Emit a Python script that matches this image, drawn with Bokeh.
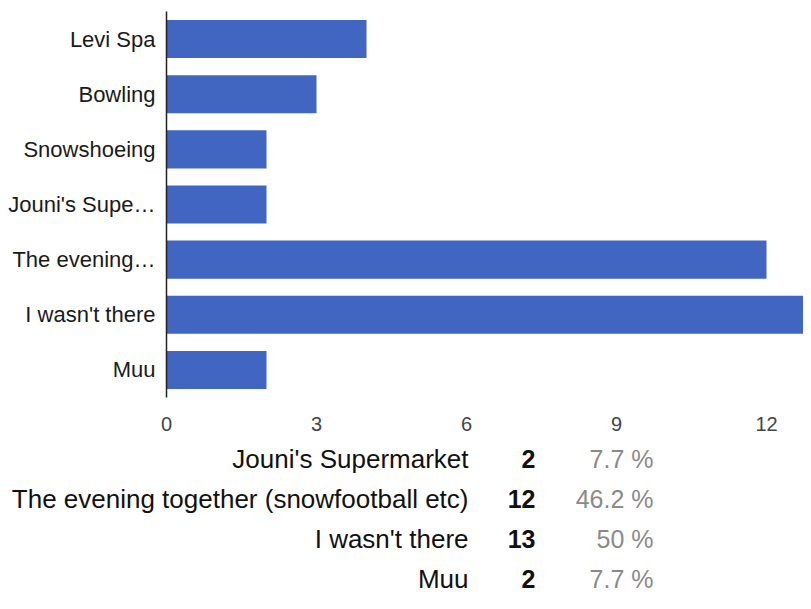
from bokeh.plotting import figure
from bokeh.models import FactorRange, Range1d, FixedTicker, ColumnDataSource
from bokeh.layouts import column
from bokeh.embed import file_html
from bokeh.resources import INLINE
from bokeh.core.properties import value

# ---- data ----
categories = ["Levi Spa", "Bowling", "Snowshoeing", "Jouni's Supe\u2026",
              "The evening\u2026", "I wasn't there", "Muu"]
counts = [4, 3, 2, 2, 12, 13, 2]
x_ticks = [0, 3, 6, 9, 12]

table_labels = ["Jouni's Supermarket", "The evening together (snowfootball etc)",
                "I wasn't there", "Muu"]
table_counts = ["2", "12", "13", "2"]
table_pcts = ["7.7 %", "46.2 %", "50 %", "7.7 %"]

FONT = "Liberation Sans"
BAR = "#4166c1"
LEFT = 166

# ---- bar chart ----
p = figure(width=803, height=440, output_backend="svg", toolbar_location=None,
           y_range=FactorRange(factors=list(reversed(categories))),
           x_range=Range1d(0, (803 - LEFT) / 50.0))
p.min_border_left = LEFT
p.min_border_right = 0
p.min_border_top = 11
p.min_border_bottom = 43
p.outline_line_color = None
p.grid.visible = False
p.frame_align = False

src = ColumnDataSource(dict(cat=categories, val=counts))
p.hbar(y="cat", left=0, right="val", height=0.69, source=src,
       fill_color=BAR, line_color=None)

p.xaxis.ticker = FixedTicker(ticks=x_ticks)
p.xaxis.axis_line_color = None
p.xaxis.major_tick_line_color = None
p.xaxis.minor_tick_line_color = None
p.xaxis.major_label_standoff = 13
p.xaxis.major_label_text_font = FONT
p.xaxis.major_label_text_font_size = "20px"
p.xaxis.major_label_text_color = "#444444"

p.yaxis.axis_line_color = "#222222"
p.yaxis.axis_line_width = 1.5
p.yaxis.major_tick_line_color = None
p.yaxis.minor_tick_line_color = None
p.yaxis.major_label_standoff = 5
p.yaxis.major_label_text_font = FONT
p.yaxis.major_label_text_font_size = "22px"
p.yaxis.major_label_text_color = "#1a1a1a"

# ---- summary table ----
t = figure(width=803, height=153, output_backend="svg", toolbar_location=None,
           x_axis_location=None, y_axis_location=None,
           x_range=Range1d(0, 803), y_range=Range1d(3.375, -0.45))
t.min_border = 0
t.min_border_left = 0
t.min_border_right = 0
t.min_border_top = 0
t.min_border_bottom = 0
t.outline_line_color = None
t.grid.visible = False
t.frame_align = False

rows = list(range(len(table_labels)))
tsrc = ColumnDataSource(dict(row=rows, label=table_labels,
                             cnt=table_counts, pct=table_pcts))
t.text(x=468, y="row", text="label", source=tsrc, text_align="right",
       text_baseline="middle", text_font=value(FONT), text_font_size="26px",
       text_color="#111111")
t.text(x=535, y="row", text="cnt", source=tsrc, text_align="right",
       text_baseline="middle", text_font=value(FONT), text_font_size="25px",
       text_font_style="bold", text_color="#111111")
t.text(x=653, y="row", text="pct", source=tsrc, text_align="right",
       text_baseline="middle", text_font=value(FONT), text_font_size="25px",
       text_color="#8a8a8a")

layout = column(p, t, spacing=0)
open("out.html", "w").write(file_html(layout, INLINE))
